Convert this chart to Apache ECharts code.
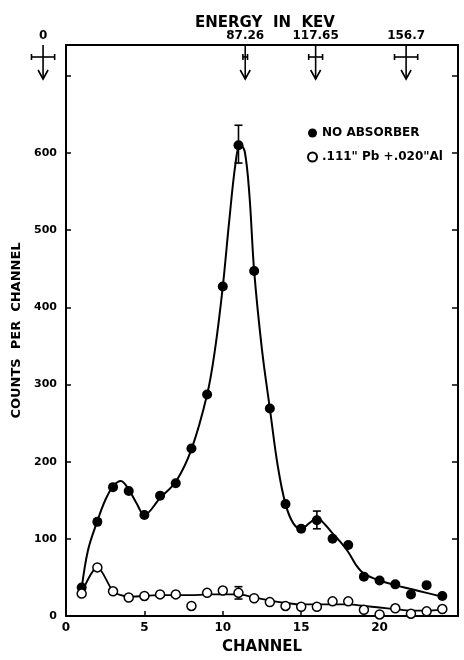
<!DOCTYPE html>
<html><head><meta charset="utf-8">
<script src="https://cdn.jsdelivr.net/npm/echarts@6/dist/echarts.min.js"></script>
<style>html,body{margin:0;padding:0;background:#fff}#c{width:464px;height:660px}</style>
</head><body><div id="c"></div>
<script>
// ---- data ----
const channels = [1,2,3,4,5,6,7,8,9,10,11,12,13,14,15,16,17,18,19,20,21,22,23,24];
const noAbsorber = [37,122,167,162,131,156,172,217,287,427,610,447,269,145,113,124,100,92,51,46,41,28,40,26];
const withAbsorber = [29,63,32,24,26,28,28,13,30,33,30,23,18,13,12,12,19,19,8,2,10,3,6,9];

const noAbsCurveX = [1,1.4,2,2.5,3,3.5,4,4.5,5,6,7,8,9,9.5,10,10.4,10.8,11.1,11.4,11.7,12,12.5,13,13.5,14,14.5,15,15.5,16,16.5,17,17.5,18,18.5,19,20,21,22,23,24];
const noAbsCurveY = [36,85,123,150,168,175,164,146,131,153,174,216,287,345,427,510,585,612,602,545,447,345,269,195,145,120,113,120,127,119,107,96,83,66,55,46,40,35,30,25];
const absCurveX = [1,2,3,3.5,4,5,6,7,8,9,10,11,12,13,14,15,16,17,18,19,20,21,22,23,24];
const absCurveY = [30,63,32,27,25,26,27,27,27,28,28,28,24,20,17,15,15,15,15,13,11,9,7,7,8];

const errCh   = [11,16,11];
const errLow  = [587,113,22];
const errHigh = [636,136,38];

const energyValues = [0,87.26,117.65,156.7];
const energyErr    = [5,1,3,5];
const energyLabels = ['0','87.26','117.65','156.7'];

const seriesNames = ['NO ABSORBER','.111" Pb +.020"Al'];
const FONT = '"DejaVu Sans", sans-serif';
const Y_MAX = 740;

const zip = (a,b) => a.map((v,i)=>[v,b[i]]);

const chart = echarts.init(document.getElementById('c'), null, {renderer:'canvas'});
const st = {stroke:'#000', lineWidth:1.6, fill:null};

chart.setOption({
  backgroundColor:'#fff',
  animation:false,
  title:{text:'ENERGY  IN  KEV', left:190, top:11,
    textStyle:{fontFamily:FONT, fontWeight:'bold', fontSize:15, color:'#000'}},
  legend:{data:seriesNames, orient:'vertical', left:302, top:122, itemWidth:9, itemHeight:9, itemGap:12,
    textStyle:{fontFamily:FONT, fontWeight:'bold', fontSize:12, color:'#000'}},
  grid:{left:66, right:6, top:45, bottom:39},
  xAxis:[
    {type:'value', min:0, max:25, interval:5, position:'bottom',
     name:'CHANNEL', nameLocation:'middle', nameGap:24,
     nameTextStyle:{fontFamily:FONT, fontWeight:'bold', fontSize:15, color:'#000'},
     axisLine:{lineStyle:{color:'#000', width:2}},
     axisTick:{inside:true, length:5, lineStyle:{color:'#000', width:1.5}},
     axisLabel:{fontFamily:FONT, fontWeight:'bold', fontSize:12, color:'#000', margin:6,
       formatter:v=> v<=20 ? String(v) : ''},
     splitLine:{show:false}},
    {type:'value', min:9.9, max:179.1, position:'top',
     axisLine:{onZero:false, lineStyle:{color:'#000', width:2}},
     axisTick:{show:false}, axisLabel:{show:false}, splitLine:{show:false}}
  ],
  yAxis:[
    {type:'value', min:0, max:Y_MAX, interval:100, position:'left',
     name:'COUNTS  PER  CHANNEL', nameLocation:'middle', nameGap:38, nameRotate:90,
     nameTextStyle:{fontFamily:FONT, fontWeight:'bold', fontSize:13, color:'#000'},
     axisLine:{show:true, lineStyle:{color:'#000', width:2}},
     axisTick:{show:true, inside:true, length:5, lineStyle:{color:'#000', width:1.5}},
     axisLabel:{fontFamily:FONT, fontWeight:'bold', fontSize:11, color:'#000', margin:9,
       formatter:v=> v<=600 ? String(v) : ''},
     splitLine:{show:false}},
    {type:'value', min:0, max:Y_MAX, interval:100, position:'right',
     axisLine:{show:true, onZero:false, lineStyle:{color:'#000', width:2}},
     axisTick:{show:true, inside:true, length:6, lineStyle:{color:'#000', width:1.5}},
     axisLabel:{show:false}, splitLine:{show:false}}
  ],
  series:[
    {type:'line', name:'curveNoAbs', data:zip(noAbsCurveX,noAbsCurveY), smooth:0.35, showSymbol:false,
     lineStyle:{color:'#000', width:2}, z:2, silent:true},
    {type:'line', name:'curveAbs', data:zip(absCurveX,absCurveY), smooth:0.3, showSymbol:false,
     lineStyle:{color:'#000', width:1.8}, z:2, silent:true},
    {type:'custom', name:'errors', data:errCh.map((c,i)=>[c,errLow[i],errHigh[i]]), z:3,
     renderItem:(params, api)=>{
       const lo = api.coord([api.value(0), api.value(1)]);
       const hi = api.coord([api.value(0), api.value(2)]);
       const x = lo[0];
       return {type:'group', children:[
         {type:'line', shape:{x1:x,y1:lo[1],x2:x,y2:hi[1]}, style:st},
         {type:'line', shape:{x1:x-4,y1:lo[1],x2:x+4,y2:lo[1]}, style:st},
         {type:'line', shape:{x1:x-4,y1:hi[1],x2:x+4,y2:hi[1]}, style:st}
       ]};
     }},
    {type:'scatter', name:seriesNames[0], data:zip(channels,noAbsorber), symbol:'circle', symbolSize:10,
     itemStyle:{color:'#000', opacity:1}, z:5},
    {type:'scatter', name:seriesNames[1], data:zip(channels,withAbsorber), symbol:'circle', symbolSize:9,
     itemStyle:{color:'#fff', borderColor:'#000', borderWidth:1.5, opacity:1}, z:5},
    {type:'custom', name:'energyArrows', xAxisIndex:1, yAxisIndex:0, clip:false, z:4,
     data:energyValues.map((e,i)=>[e,energyErr[i]]),
     renderItem:(params, api)=>{
       const e = api.value(0), err = api.value(1);
       const top = api.coord([e, Y_MAX]);
       const x = top[0], y0 = top[1];
       const yTip = y0 + 34, ebY = y0 + 12;
       const xl = api.coord([e-err, Y_MAX])[0], xr = api.coord([e+err, Y_MAX])[0];
       return {type:'group', children:[
         {type:'line', shape:{x1:x,y1:y0,x2:x,y2:yTip}, style:st},
         {type:'polyline', shape:{points:[[x-5,yTip-9],[x,yTip],[x+5,yTip-9]]}, style:st},
         {type:'line', shape:{x1:xl,y1:ebY,x2:xr,y2:ebY}, style:st},
         {type:'line', shape:{x1:xl,y1:ebY-3,x2:xl,y2:ebY+3}, style:st},
         {type:'line', shape:{x1:xr,y1:ebY-3,x2:xr,y2:ebY+3}, style:st},
         {type:'text', x:x, y:y0-3, style:{text:energyLabels[params.dataIndex], align:'center', verticalAlign:'bottom',
           font:'bold 12px "DejaVu Sans", sans-serif', fill:'#000'}}
       ]};
     }}
  ]
});
</script></body></html>
